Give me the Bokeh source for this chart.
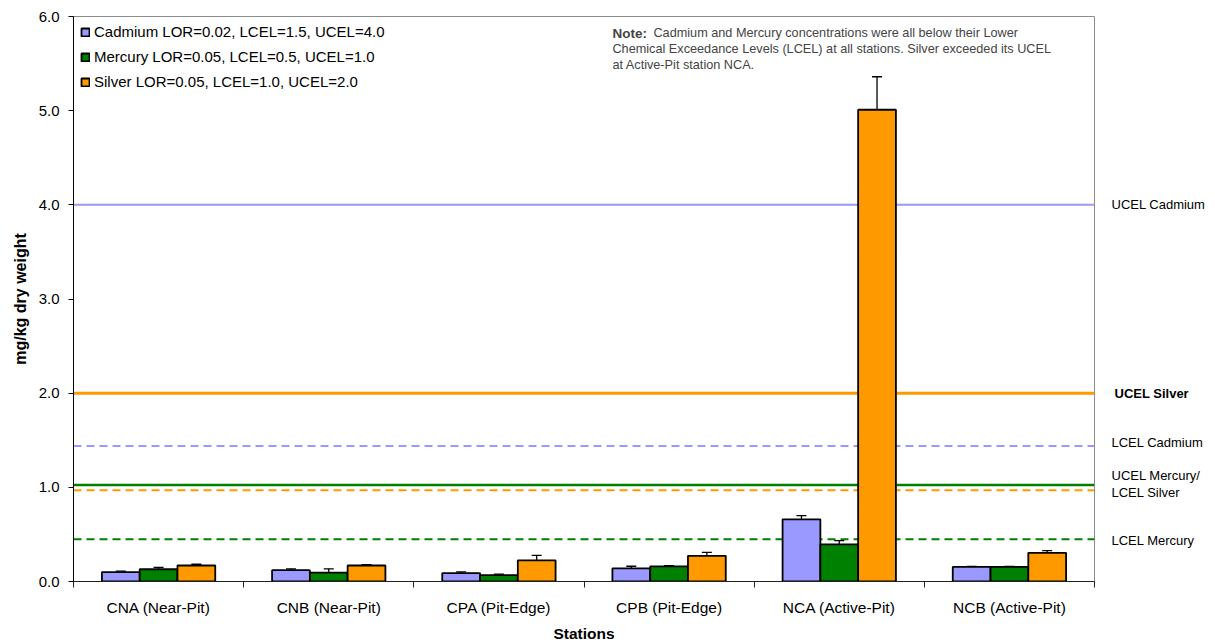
import numpy as np
from bokeh.plotting import figure
from bokeh.layouts import row
from bokeh.models import (Range1d, FixedTicker, NumeralTickFormatter, Span, Label,
                          Whisker, TeeHead, ColumnDataSource)
from bokeh.core.properties import value
from bokeh.embed import file_html
from bokeh.resources import INLINE

# ---------------- data ----------------
stations = ["CNA (Near-Pit)", "CNB (Near-Pit)", "CPA (Pit-Edge)",
            "CPB (Pit-Edge)", "NCA (Active-Pit)", "NCB (Active-Pit)"]
series_names = ["Cadmium LOR=0.02, LCEL=1.5, UCEL=4.0",
                "Mercury LOR=0.05, LCEL=0.5, UCEL=1.0",
                "Silver LOR=0.05, LCEL=1.0, UCEL=2.0"]
cadmium = [0.10, 0.12, 0.09, 0.14, 0.66, 0.155]
cadmium_err = [0.01, 0.015, 0.012, 0.022, 0.04, 0.005]
mercury = [0.13, 0.095, 0.067, 0.16, 0.395, 0.155]
mercury_err = [0.02, 0.04, 0.011, 0.007, 0.04, 0.005]
silver = [0.17, 0.17, 0.225, 0.273, 5.01, 0.305]
silver_err = [0.013, 0.01, 0.052, 0.036, 0.35, 0.022]

threshold_names = ["UCEL Cadmium", "UCEL Silver", "LCEL Cadmium",
                   "UCEL Mercury", "LCEL Silver", "LCEL Mercury"]
threshold_values = [4.0, 2.0, 1.44, 1.025, 0.97, 0.45]

# labels shown to the right of the plot (text, vertical position, bold?)
side_texts = ["UCEL Cadmium", "UCEL Silver", "LCEL Cadmium",
              "UCEL Mercury/", "LCEL Silver", "LCEL Mercury"]
side_text_y = [4.0, 2.0, 1.475, 1.125, 0.945, 0.437]
side_text_bold = [False, True, False, False, False, False]

y_ticks = [0, 1, 2, 3, 4, 5, 6]

note_bold = "Note:"
note_lines = ["Cadmium and Mercury concentrations were all below their Lower",
              "Chemical Exceedance Levels (LCEL) at all stations.  Silver exceeded its UCEL",
              "at Active-Pit station NCA."]

# ---------------- style ----------------
FONT = "Liberation Sans"
colors = ["#9999FF", "#008000", "#FF9900"]
th_colors = ["#9999FF", "#FF9900", "#9999FF", "#008000", "#FF9900", "#008000"]
th_dash = ["solid", "solid", "8 5", "solid", "8 5", "8 5"]
th_width = [2, 3, 2, 2.5, 2, 2]

H = 644
TOP, BOTTOM = 16, 63

p = figure(width=1095, height=H, output_backend="svg", toolbar_location=None,
           x_range=Range1d(0, 6), y_range=Range1d(0, 6),
           min_border_left=73, min_border_right=1, min_border_top=TOP,
           min_border_bottom=BOTTOM)
p.background_fill_color = "white"
p.border_fill_color = "white"
p.outline_line_color = "#8c8c8c"
p.outline_line_width = 1
p.xgrid.visible = False
p.ygrid.visible = False

# threshold lines
for v, c, d, w in zip(threshold_values, th_colors, th_dash, th_width):
    p.add_layout(Span(location=v, dimension="width", line_color=c,
                      line_dash=d, line_width=w, level="underlay"))

centers = np.arange(len(stations)) + 0.5
bw = 0.222
offsets = [-bw, 0.0, bw]
vals = [cadmium, mercury, silver]
errs = [cadmium_err, mercury_err, silver_err]

for vs, es, off, col, name in zip(vals, errs, offsets, colors, series_names):
    xs = centers + off
    src = ColumnDataSource(dict(x=xs, top=vs, upper=np.array(vs) + np.array(es)))
    p.vbar(x="x", top="top", bottom=0, width=bw, source=src, fill_color=col,
           line_color="black", line_width=1.8, legend_label=name)
    p.add_layout(Whisker(source=src, base="x", lower="top", upper="upper",
                         line_color="black", line_width=1.3,
                         upper_head=TeeHead(size=10, line_color="black", line_width=1.3),
                         lower_head=None))

# axes
xa = p.xaxis[0]
xa.ticker = FixedTicker(ticks=list(centers), minor_ticks=list(range(len(stations) + 1)))
xa.major_label_overrides = {float(c): s for c, s in zip(centers, stations)}
xa.major_tick_line_color = None
xa.major_tick_out = 0
xa.minor_tick_out = 6
xa.minor_tick_in = 0
xa.minor_tick_line_color = "#222222"
xa.axis_line_color = "#222222"
xa.major_label_standoff = 11
xa.major_label_text_font = FONT
xa.major_label_text_font_size = "15.5px"
xa.major_label_text_color = "black"
xa.axis_label = "Stations"
xa.axis_label_text_font = FONT
xa.axis_label_text_font_size = "15.5px"
xa.axis_label_text_font_style = "bold"
xa.axis_label_text_color = "black"
xa.axis_label_standoff = 6

ya = p.yaxis[0]
ya.ticker = FixedTicker(ticks=y_ticks)
ya.formatter = NumeralTickFormatter(format="0.0")
ya.minor_tick_line_color = None
ya.major_tick_out = 5
ya.major_tick_in = 0
ya.major_tick_line_color = "black"
ya.axis_line_color = "black"
ya.major_label_standoff = 9
ya.major_label_text_font = FONT
ya.major_label_text_font_size = "15px"
ya.major_label_text_color = "black"
ya.axis_label = "mg/kg dry weight"
ya.axis_label_text_font = FONT
ya.axis_label_text_font_size = "16px"
ya.axis_label_text_font_style = "bold"
ya.axis_label_text_color = "black"
ya.axis_label_standoff = 7

# note
note_y = [5.82, 5.655, 5.49]
note_x = 3.167
p.add_layout(Label(x=note_x, y=note_y[0], text=note_bold, text_font=FONT,
                   text_font_size="13.5px", text_font_style="bold",
                   text_baseline="middle"))
p.add_layout(Label(x=note_x, x_offset=41, y=note_y[0], text=note_lines[0], text_font=FONT,
                   text_font_size="12.7px", text_baseline="middle"))
for t, yv in zip(note_lines[1:], note_y[1:]):
    p.add_layout(Label(x=note_x, y=yv, text=t, text_font=FONT,
                       text_font_size="12.7px", text_baseline="middle"))

# legend
lg = p.legend[0]
lg.location = "top_left"
lg.margin = 7
lg.padding = 0
lg.spacing = 8
lg.label_height = 15
lg.glyph_width = 10
lg.glyph_height = 10
lg.label_standoff = 4
lg.label_text_font = FONT
lg.label_text_font_size = "15px"
lg.label_text_color = "black"
lg.background_fill_alpha = 0
lg.border_line_color = None

# side panel with threshold names
side = figure(width=1215 - 1095, height=H, output_backend="svg", toolbar_location=None,
              x_range=Range1d(0, 1), y_range=p.y_range,
              min_border_left=0, min_border_right=0, min_border_top=TOP,
              min_border_bottom=BOTTOM)
side.axis.visible = False
side.grid.visible = False
side.outline_line_color = None
side.background_fill_color = "white"
side.border_fill_color = "white"
norm = [i for i, b in enumerate(side_text_bold) if not b]
bold = [i for i, b in enumerate(side_text_bold) if b]
side.text(x=[0.0] * len(norm), y=[side_text_y[i] for i in norm],
          text=[side_texts[i] for i in norm], x_offset=16,
          text_font=value(FONT), text_font_size="13px", text_baseline="middle",
          text_align="left", text_color="black")
side.text(x=[0.0] * len(bold), y=[side_text_y[i] for i in bold],
          text=[side_texts[i] for i in bold], x_offset=19,
          text_font=value(FONT), text_font_size="13px", text_font_style="bold",
          text_baseline="middle", text_align="left", text_color="black")

layout = row(p, side)
open("out.html", "w").write(file_html(layout, INLINE))
